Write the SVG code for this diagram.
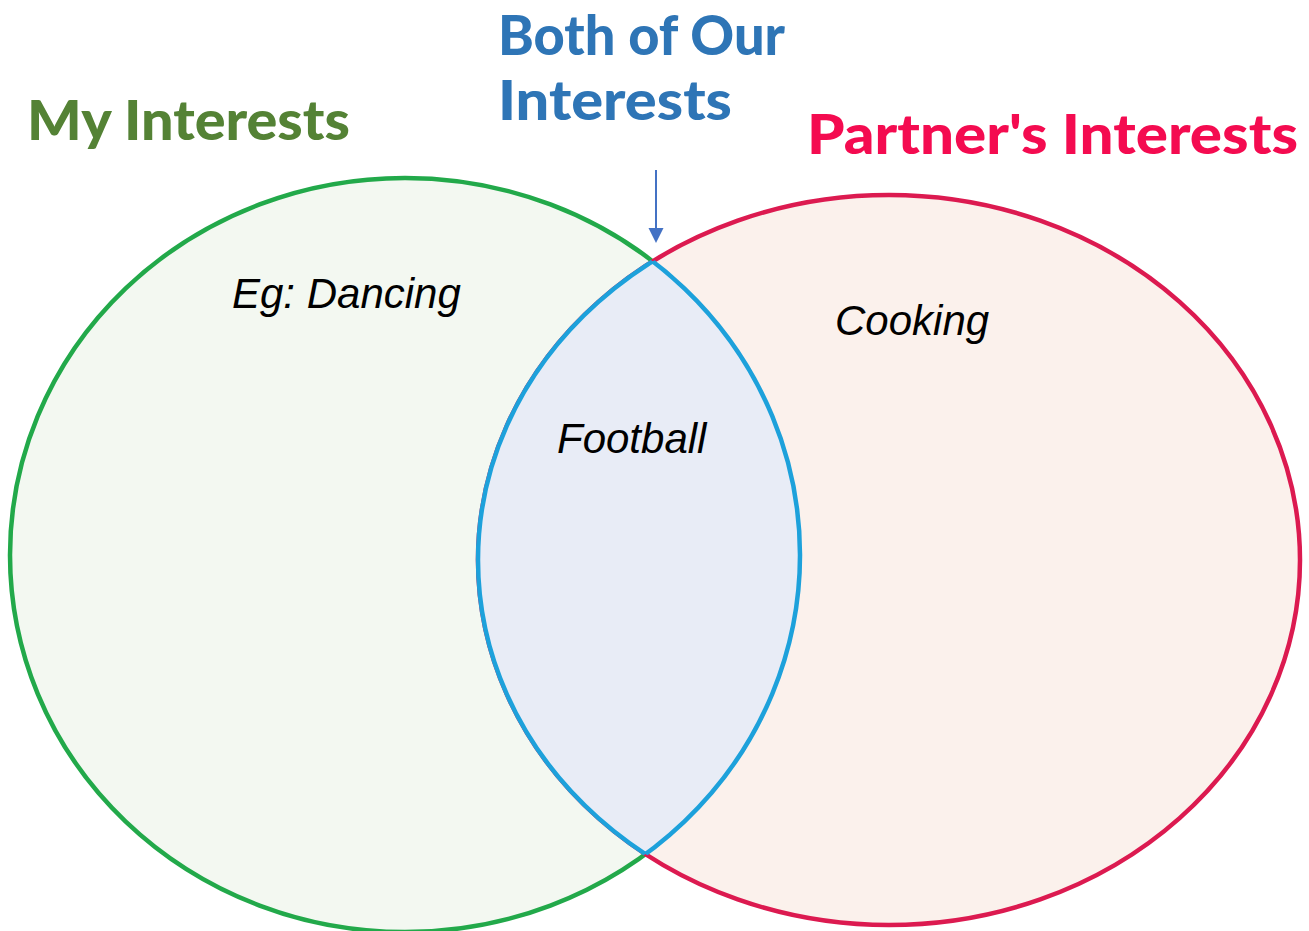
<svg xmlns="http://www.w3.org/2000/svg" width="1309" height="931" viewBox="0 0 1309 931">
<style>
.title{font-family:"Lato","Open Sans",sans-serif;font-weight:900;font-size:56px}
.lbl{font-family:"Liberation Sans",Arial,sans-serif;font-style:italic;font-size:42px;fill:#000}
</style>
<defs>
<clipPath id="clipL"><ellipse cx="405" cy="555" rx="395" ry="377"/></clipPath>
<clipPath id="clipR"><ellipse cx="889" cy="560" rx="411" ry="365"/></clipPath>
</defs>
<rect width="1309" height="931" fill="#ffffff"/>
<g id="my-interests">
<ellipse cx="405" cy="555" rx="395" ry="377" fill="#F3F8F1" stroke="#22A94A" stroke-width="4.5"/>
</g>
<g id="partner-interests">
<ellipse cx="889" cy="560" rx="411" ry="365" fill="#FBF1EC" stroke="#DC1A50" stroke-width="4.5"/>
</g>
<g id="both-interests">
<ellipse cx="889" cy="560" rx="411" ry="365" fill="#E8ECF6" clip-path="url(#clipL)"/>
<ellipse cx="889" cy="560" rx="411" ry="365" fill="none" stroke="#1DA1DB" stroke-width="4.5" clip-path="url(#clipL)"/>
<ellipse cx="405" cy="555" rx="395" ry="377" fill="none" stroke="#1DA1DB" stroke-width="4.5" clip-path="url(#clipR)"/>
</g>
<g id="connectors">
<line x1="656" y1="170" x2="656" y2="230" stroke="#4472C4" stroke-width="2"/>
<polygon points="648.5,228 663.5,228 656,243" fill="#4472C4"/>
</g>
<g id="titles">
<text class="title" x="27" y="140" fill="#548235" textLength="323" lengthAdjust="spacingAndGlyphs">My Interests</text>
<text class="title" x="498" y="55" fill="#2E75B6" textLength="287" lengthAdjust="spacingAndGlyphs">Both of Our</text>
<text class="title" x="498" y="120" fill="#2E75B6" textLength="234" lengthAdjust="spacingAndGlyphs">Interests</text>
<text class="title" x="807" y="154" fill="#F40B50" textLength="491" lengthAdjust="spacingAndGlyphs">Partner's Interests</text>
</g>
<g id="labels">
<text class="lbl" x="232" y="308">Eg: Dancing</text>
<text class="lbl" x="835" y="335">Cooking</text>
<text class="lbl" x="557" y="453">Football</text>
</g>
</svg>
